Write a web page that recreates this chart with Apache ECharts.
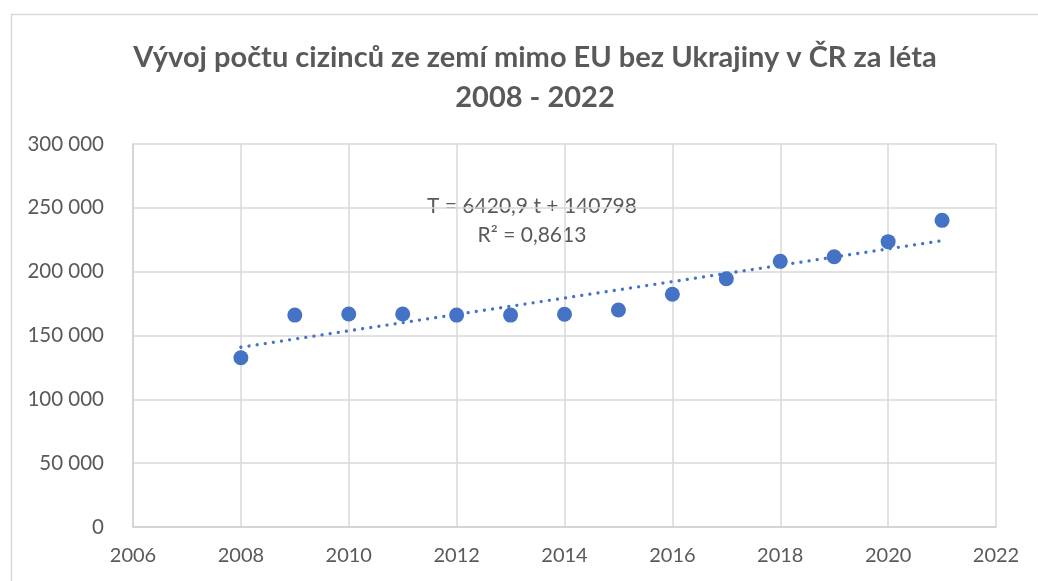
<!DOCTYPE html>
<html>
<head>
<meta charset="utf-8">
<script src="https://cdn.jsdelivr.net/npm/echarts@6/dist/echarts.min.js"></script>
<style>
  html, body { margin: 0; padding: 0; background: #fff; }
  #chart { width: 1038px; height: 581px; }
</style>
</head>
<body>
<div id="chart"></div>
<script>
// roky a počty cizinců
const years = [2008, 2009, 2010, 2011, 2012, 2013, 2014, 2015, 2016, 2017, 2018, 2019, 2020, 2021];
const counts = [132600, 166000, 166800, 166800, 166000, 166000, 166600, 170000, 182300, 194500, 208100, 211700, 223500, 240200];
// lineární trend - krajní body
const trendYears = [2008, 2021];
const trendValues = [140798, 224270];
const trendText = ['T = 6420,9 t + 140798', 'R² = 0,8613'];

const chartDom = document.getElementById('chart');
const myChart = echarts.init(chartDom);

const fmt = v => String(v).replace(/\B(?=(\d{3})+(?!\d))/g, ' ');

const option = {
  backgroundColor: '#fff',
  animation: false,
  textStyle: { fontFamily: 'Lato' },
  title: {
    text: 'Vývoj počtu cizinců ze zemí mimo EU bez Ukrajiny v ČR za léta\n2008 - 2022',
    left: 530,
    top: 33,
    textAlign: 'center',
    textStyle: {
      fontFamily: 'Lato',
      fontWeight: 'bold',
      fontSize: 29,
      lineHeight: 40,
      color: '#595959'
    }
  },
  graphic: [
    {
      type: 'rect',
      left: 9,
      top: 12,
      shape: { width: 1100, height: 700 },
      style: { fill: 'none', stroke: '#d9d9d9', lineWidth: 1.5 },
      silent: true
    },
    {
      type: 'text',
      style: {
        text: trendText.join('\n'),
        x: 532,
        y: 192,
        align: 'center',
        fontFamily: 'Lato',
        fontSize: 21,
        lineHeight: 29,
        fill: '#595959'
      }
    }
  ],
  grid: {
    left: 133,
    right: 42,
    top: 144,
    bottom: 54
  },
  xAxis: {
    type: 'value',
    min: 2006,
    max: 2022,
    interval: 2,
    axisLine: { show: true, lineStyle: { color: '#d0d0d0', width: 1.5 } },
    axisTick: { show: false },
    splitLine: { show: true, lineStyle: { color: '#d9d9d9', width: 1.5 } },
    axisLabel: { color: '#595959', fontSize: 20, margin: 19, formatter: v => String(v) }
  },
  yAxis: {
    type: 'value',
    min: 0,
    max: 300000,
    interval: 50000,
    axisLine: { show: true, lineStyle: { color: '#d0d0d0', width: 1.5 } },
    axisTick: { show: false },
    splitLine: { show: true, lineStyle: { color: '#d9d9d9', width: 1.5 } },
    axisLabel: { color: '#595959', fontSize: 20.5, margin: 29, formatter: fmt }
  },
  series: [
    {
      type: 'line',
      data: trendYears.map((y, i) => [y, trendValues[i]]),
      symbol: 'none',
      z: 3,
      lineStyle: { color: '#4472C4', width: 3.3, type: [0.01, 8.2], cap: 'round' }
    },
    {
      type: 'scatter',
      data: years.map((y, i) => [y, counts[i]]),
      symbolSize: 15,
      z: 4,
      itemStyle: { color: '#4472C4', opacity: 1 }
    }
  ]
};
myChart.setOption(option);
</script>
</body>
</html>
